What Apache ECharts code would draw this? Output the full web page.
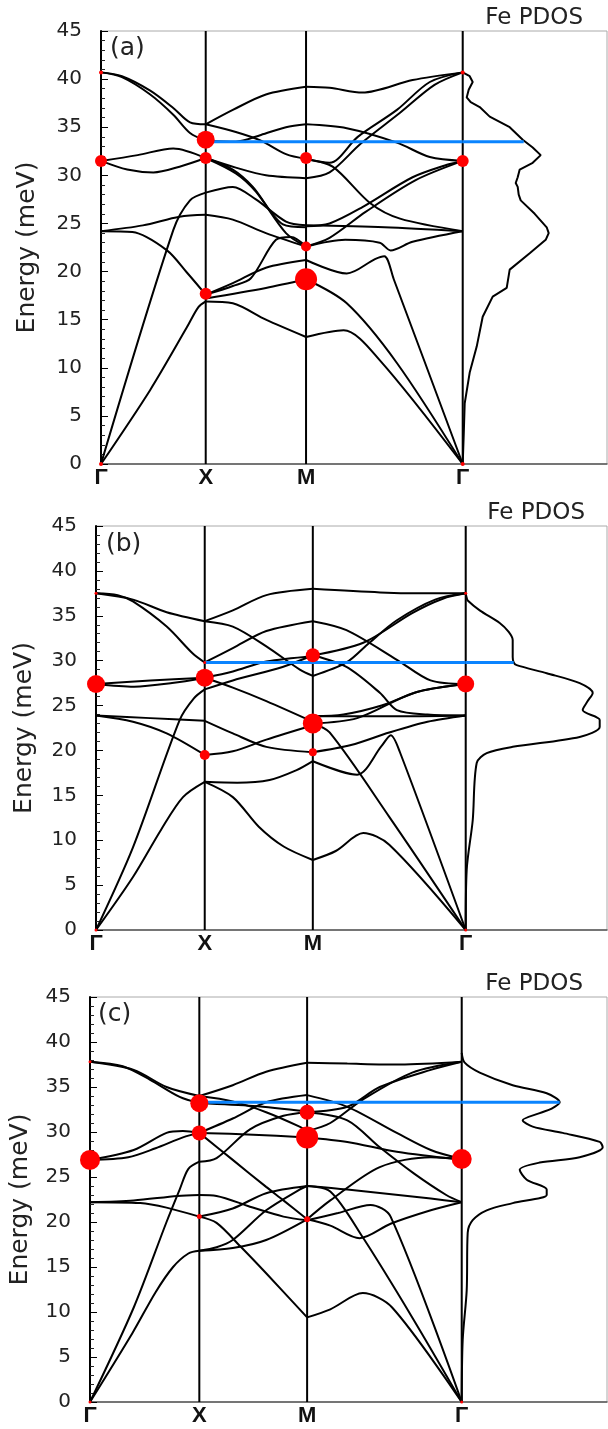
<!DOCTYPE html>
<html><head><meta charset="utf-8">
<script src="https://cdn.jsdelivr.net/npm/echarts@6/dist/echarts.min.js"></script>
<style>html,body{margin:0;padding:0;background:#fff}#c{width:608px;height:1429px}</style>
</head><body><div id="c"></div>
<script>
// ---------- data ----------
const kLabels = ['Γ', 'X', 'M', 'Γ'];
const panelTags = ['(a)', '(b)', '(c)'];
const energyMin = 0, energyMax = 45, energyStep = 5;

// high-symmetry k distances along the path (as drawn)
const kNodesA = [0, 0.5, 0.979, 1.727];
const kNodesB = [0, 0.5, 0.997, 1.700];
const kNodesC = [0, 0.5, 0.993, 1.700];

// branches per segment: [fraction along segment, energy meV]
const bandsA_GX = [
 [[0,0],[0.47,7.7],[0.82,14.2],[0.93,16.3],[1,16.9]],
 [[0,0],[0.69,24.3],[0.85,27.4],[1,28.2]],
 [[0,24.2],[0.4,24.8],[0.75,25.7],[1,25.9]],
 [[0,24.2],[0.3,24.1],[0.63,22.2],[0.82,19.9],[1,17.6]],
 [[0,31.5],[0.25,30.6],[0.5,30.3],[0.75,30.9],[1,31.8]],
 [[0,31.5],[0.35,32.1],[0.69,32.8],[1,31.8]],
 [[0,40.7],[0.2,40.3],[0.47,38.8],[0.69,37.0],[0.85,35.5],[1,35.3]],
 [[0,40.7],[0.2,40.2],[0.47,38.4],[0.69,36.3],[0.85,34.4],[1,33.6]]
];
const bandsA_XM = [
 [[0,35.3],[0.27,36.8],[0.6,38.4],[1,39.2]],
 [[0,35.3],[0.3,34.5],[0.55,33.6],[0.8,32.2],[1,31.7]],
 [[0,33.6],[0.3,33.5],[0.55,34.2],[0.8,35.0],[1,35.3]],
 [[0,31.8],[0.3,30.8],[0.6,30.0],[1,29.7]],
 [[0,31.8],[0.27,30.6],[0.47,28.8],[0.77,24.9],[1,24.6]],
 [[0,31.8],[0.3,30.2],[0.5,28.3],[0.8,24.0],[1,22.6]],
 [[0,28.2],[0.27,28.8],[0.5,27.5],[0.8,25.2],[1,24.8]],
 [[0,25.9],[0.27,25.4],[0.6,24.0],[1,22.6]],
 [[0,17.6],[0.27,18.5],[0.45,19.3],[0.7,23.3],[0.85,23.6],[1,22.6]],
 [[0,17.6],[0.27,18.8],[0.6,20.4],[1,21.2]],
 [[0,17.2],[0.6,18.3],[1,19.2]],
 [[0,16.9],[0.27,16.7],[0.6,15.0],[1,13.2]]
];
const bandsA_MG = [
 [[0,39.2],[0.15,39.1],[0.36,38.6],[0.68,39.9],[1,40.7]],
 [[0,35.3],[0.26,34.9],[0.58,33.4],[0.79,31.9],[1,31.5]],
 [[0,31.7],[0.15,31.3],[0.33,34.0],[0.58,36.8],[0.79,39.7],[1,40.7]],
 [[0,29.7],[0.15,30.3],[0.35,33.3],[0.6,36.5],[0.82,39.4],[1,40.7]],
 [[0,31.7],[0.17,30.9],[0.41,27.1],[0.6,25.5],[1,24.2]],
 [[0,24.7],[0.15,25.0],[0.36,26.7],[0.68,29.8],[0.9,31.1],[1,31.5]],
 [[0,22.6],[0.15,23.5],[0.38,26.2],[0.7,29.5],[1,31.5]],
 [[0,24.8],[0.5,24.6],[1,24.2]],
 [[0,22.6],[0.25,23.3],[0.47,23.0],[0.54,22.2],[0.68,23.1],[1,24.2]],
 [[0,21.2],[0.26,19.8],[0.44,21.3],[0.5,21.6],[0.56,19.2],[1,0]],
 [[0,19.2],[0.26,16.7],[0.58,10.5],[1,0]],
 [[0,13.2],[0.24,13.9],[0.47,10.8],[1,0]]
];

const bandsB_GX = [
 [[0,37.5],[0.34,36.8],[0.65,35.4],[1,34.4]],
 [[0,37.5],[0.2,37.3],[0.34,36.6],[0.65,33.8],[0.89,30.8],[1,29.8]],
 [[0,27.4],[0.5,27.8],[1,28.1]],
 [[0,27.4],[0.35,27.1],[0.7,27.5],[1,28.1]],
 [[0,0],[0.34,9.2],[0.77,23.4],[0.9,25.8],[1,26.8]],
 [[0,0],[0.34,5.9],[0.6,11.2],[0.8,14.8],[1,16.5]],
 [[0,23.9],[0.5,23.6],[1,23.3]],
 [[0,23.9],[0.34,23.2],[0.65,21.9],[1,19.5]]
];
const bandsB_XM = [
 [[0,34.4],[0.26,35.6],[0.57,37.3],[1,38.0]],
 [[0,34.4],[0.26,33.8],[0.57,31.6],[0.88,29.0],[1,28.3]],
 [[0,29.8],[0.26,31.4],[0.57,33.3],[1,34.4]],
 [[0,28.1],[0.26,28.8],[0.57,29.9],[1,30.5]],
 [[0,26.8],[0.26,27.8],[0.72,29.3],[1,30.6]],
 [[0,28.1],[0.26,27.0],[0.57,25.5],[1,23.2]],
 [[0,19.5],[0.26,19.9],[0.57,21.2],[1,22.8]],
 [[0,23.3],[0.26,21.9],[0.57,20.4],[1,19.8]],
 [[0,16.5],[0.3,16.4],[0.6,16.7],[0.85,17.8],[1,18.8]],
 [[0,16.5],[0.26,14.8],[0.5,11.5],[0.73,9.3],[1,7.8]]
];
const bandsB_MG = [
 [[0,38.0],[0.44,37.6],[0.7,37.5],[1,37.5]],
 [[0,34.4],[0.22,33.4],[0.55,30.1],[0.77,27.8],[1,27.4]],
 [[0,30.6],[0.33,32.0],[0.65,35.3],[0.85,36.9],[1,37.5]],
 [[0,28.3],[0.22,29.8],[0.37,32.0],[0.55,34.5],[0.8,36.8],[1,37.5]],
 [[0,30.6],[0.22,29.3],[0.44,26.4],[0.55,24.5],[0.75,24.0],[1,23.9]],
 [[0,23.0],[0.29,23.6],[0.66,26.4],[1,27.4]],
 [[0,23.8],[0.2,24.0],[0.45,25.0],[0.7,26.6],[1,27.4]],
 [[0,23.8],[0.5,23.8],[1,23.9]],
 [[0,18.8],[0.29,17.3],[0.45,20.5],[0.51,21.7],[0.57,19.8],[1,0]],
 [[0,19.8],[0.25,20.6],[0.5,22.0],[0.75,23.2],[1,23.9]],
 [[0,23.0],[0.11,22.0],[0.5,12.6],[1,0]],
 [[0,7.8],[0.15,8.8],[0.33,10.8],[0.5,9.5],[1,0]]
];

const bandsC_GX = [
 [[0,37.8],[0.4,36.9],[0.7,35.0],[1,34.0]],
 [[0,37.8],[0.3,37.3],[0.55,35.8],[0.82,33.9],[1,33.2]],
 [[0,26.9],[0.4,28.0],[0.7,29.9],[0.85,30.1],[1,29.9]],
 [[0,26.9],[0.35,27.2],[0.6,28.2],[0.85,29.4],[1,29.9]],
 [[0,22.2],[0.4,22.4],[0.8,22.9],[1,23.0]],
 [[0,22.2],[0.46,22.1],[0.7,21.6],[1,20.6]],
 [[0,0],[0.4,10.5],[0.7,20.0],[0.82,23.6],[0.9,25.9],[1,26.7]],
 [[0,0],[0.39,7.7],[0.6,12.2],[0.76,15.0],[0.9,16.5],[1,16.8]]
];
const bandsC_XM = [
 [[0,34.0],[0.31,35.2],[0.62,36.7],[1,37.7]],
 [[0,34.0],[0.31,33.4],[0.62,32.2],[0.93,30.6],[1,30.1]],
 [[0,33.2],[0.5,32.9],[1,32.3]],
 [[0,29.9],[0.5,29.7],[1,29.4]],
 [[0,29.9],[0.31,31.5],[0.62,33.3],[1,34.1]],
 [[0,29.9],[0.31,26.9],[0.62,23.9],[0.78,22.4],[1,20.3]],
 [[0,26.7],[0.16,27.1],[0.47,30.3],[0.78,31.8],[1,32.2]],
 [[0,23.0],[0.16,22.9],[0.47,21.7],[0.78,20.6],[1,20.2]],
 [[0,20.6],[0.31,21.5],[0.62,23.2],[1,24.0]],
 [[0,20.6],[0.16,19.9],[0.38,17.3],[0.62,14.3],[1,9.4]],
 [[0,16.8],[0.31,17.1],[0.62,18.0],[1,20.3]],
 [[0,16.8],[0.16,17.2],[0.31,18.0],[0.62,21.3],[0.93,23.6],[1,24.0]]
];
const bandsC_MG = [
 [[0,37.7],[0.26,37.6],[0.6,37.5],[1,37.8]],
 [[0,34.1],[0.26,32.8],[0.58,29.9],[0.8,28.0],[1,27.0]],
 [[0,30.1],[0.15,31.0],[0.36,33.6],[0.68,36.6],[1,37.8]],
 [[0,32.2],[0.26,32.8],[0.47,35.0],[0.8,36.9],[1,37.8]],
 [[0,29.4],[0.26,28.9],[0.58,27.8],[1,26.9]],
 [[0,32.2],[0.26,31.3],[0.47,28.3],[0.69,25.4],[0.9,23.0],[1,22.2]],
 [[0,24.0],[0.26,23.6],[0.8,22.6],[1,22.2]],
 [[0,20.3],[0.15,22.4],[0.47,26.1],[0.8,27.2],[1,27.0]],
 [[0,20.3],[0.15,19.6],[0.34,18.2],[0.54,19.8],[0.8,21.3],[1,22.2]],
 [[0,20.2],[0.2,21.0],[0.41,21.9],[0.54,20.6],[1,0]],
 [[0,24.0],[0.15,23.4],[0.36,18.3],[0.68,9.4],[1,0]],
 [[0,9.4],[0.15,10.3],[0.36,12.1],[0.55,10.5],[1,0]]
];

// Fe partial DOS: [energy meV, DOS arb. units]
const pdosA = [[40.7,0],[40.3,0.07],[39.7,0.10],[38.9,0.06],[38.1,0.04],[37.6,0.08],[37.1,0.17],[36.1,0.27],[35.0,0.47],[33.7,0.60],[32.9,0.70],[32.1,0.78],[31.3,0.70],[30.6,0.57],[29.8,0.55],[29.2,0.53],[28.8,0.55],[28.0,0.56],[27.4,0.58],[26.0,0.72],[24.6,0.84],[24.0,0.86],[23.3,0.83],[21.9,0.67],[20.2,0.47],[18.3,0.44],[17.4,0.30],[15.3,0.20],[12.2,0.14],[9.5,0.07],[6.3,0.02],[3,0.01],[0,0]];
const pdosB = [[37.5,0],[37.0,0.01],[36.7,0.02],[35.6,0.14],[34.2,0.34],[33.2,0.43],[32.3,0.47],[30.4,0.47],[29.8,0.48],[29.5,0.51],[28.6,0.81],[27.5,1.14],[26.4,1.27],[25.5,1.22],[24.5,1.17],[23.4,1.34],[22.6,1.34],[21.5,1.14],[20.4,0.47],[19.7,0.21],[18.6,0.11],[12.2,0.07],[6.7,0.01],[0,0]];
const pdosC = [[38.8,0],[37.7,0.03],[36.6,0.18],[35.2,0.51],[34.3,0.85],[33.3,0.98],[32.6,0.90],[32.1,0.78],[31.3,0.61],[30.6,0.71],[29.9,1.01],[28.9,1.38],[28.3,1.41],[27.2,1.18],[26.6,0.78],[25.8,0.58],[24.7,0.65],[23.6,0.85],[23.0,0.85],[22.1,0.51],[21.3,0.25],[20.2,0.11],[18.8,0.06],[12.4,0.05],[6.9,0.01],[0,0]];

// highlighted modes: [k-node index, energy, Fe weight]
const dotsA = [[0,0,2],[0,31.5,6],[0,40.7,2],[1,33.7,9],[1,31.8,6],[1,17.7,6],[2,31.8,6],[2,22.6,5],[2,19.2,11],[3,31.5,6],[3,40.7,2],[3,0,2]];
const dotsB = [[0,0,1.5],[0,27.4,9],[0,37.5,1.5],[1,29.8,1.5],[1,28.1,9],[1,19.5,5],[2,30.6,7],[2,23.0,10],[2,19.8,4],[3,27.4,8.5],[3,37.5,1.5],[3,0,1.5]];
const dotsC = [[0,0,1.5],[0,26.9,10],[0,37.8,1.5],[1,33.2,9],[1,29.9,7.5],[1,20.6,2.5],[2,32.2,7.5],[2,29.4,11],[2,20.3,3],[3,27.0,10],[3,0,1.5]];

// blue marker: [energy, DOS value at its end]
const blueA = [33.5, 0.61];
const blueB = [29.8, 0.48];
const blueC = [33.3, 0.98];

// ---------- build ----------
const panelsData = [
 {k:kNodesA, segs:[bandsA_GX,bandsA_XM,bandsA_MG], pdos:pdosA, dots:dotsA, blue:blueA, smoothDos:false},
 {k:kNodesB, segs:[bandsB_GX,bandsB_XM,bandsB_MG], pdos:pdosB, dots:dotsB, blue:blueB, smoothDos:0.3},
 {k:kNodesC, segs:[bandsC_GX,bandsC_XM,bandsC_MG], pdos:pdosC, dots:dotsC, blue:blueC, smoothDos:0.3}
];
const layout = [
 {left:101, top:31, gx:462.7, bottom:464, gap:61, tag:[110,51], fe:[583,18.5]},
 {left:96, top:526, gx:465.7, bottom:930, gap:59, tag:[106,546.5], fe:[585,513.5]},
 {left:90, top:997, gx:461.7, bottom:1402, gap:57, tag:[98,1016.5], fe:[583,984]}
];
const RIGHT = 607;
const DOS_PX = 100; // px per DOS unit

const grid = [], xAxis = [], yAxis = [], series = [], graphic = [];
const font = 'DejaVu Sans';

panelsData.forEach((p, i) => {
  const L = layout[i];
  const h = L.bottom - L.top;
  grid.push({left:L.left, top:L.top, width:L.gx - L.left, height:h, show:true, borderColor:'#aaa', borderWidth:1, containLabel:false});
  grid.push({left:L.gx, top:L.top, width:RIGHT - L.gx, height:h, show:true, borderColor:'#aaa', borderWidth:1, containLabel:false});
  const g0 = 2*i, g1 = 2*i+1;
  xAxis.push({gridIndex:g0, type:'value', min:0, max:p.k[3],
    axisLine:{show:true, lineStyle:{color:'#555', width:1.5}},
    axisTick:{show:false}, splitLine:{show:false},
    axisLabel:{customValues:p.k, showMinLabel:true, showMaxLabel:true, margin:3,
      fontSize:22, fontWeight:'bold', fontFamily:'Liberation Sans', color:'#111',
      formatter:(v) => { const j = p.k.findIndex(kk => Math.abs(kk - v) < 1e-6); return j >= 0 ? kLabels[j] : ''; }}
  });
  xAxis.push({gridIndex:g1, type:'value', min:0, max:(RIGHT - L.gx)/DOS_PX,
    axisLine:{show:true, lineStyle:{color:'#555', width:1.5}},
    axisTick:{show:false}, axisLabel:{show:false}, splitLine:{show:false}});
  yAxis.push({gridIndex:g0, type:'value', min:energyMin, max:energyMax, interval:energyStep,
    name:'Energy (meV)', nameLocation:'middle', nameGap:L.gap,
    nameTextStyle:{fontSize:25, fontFamily:font, color:'#222'},
    axisLine:{show:true, lineStyle:{color:'#000', width:2}},
    axisTick:{show:true, inside:true, length:7, lineStyle:{color:'#000', width:1}},
    minorTick:{show:true, splitNumber:5, length:4, lineStyle:{color:'#222', width:1}},
    splitLine:{show:false},
    axisLabel:{fontSize:20, fontFamily:font, color:'#222', margin:19}
  });
  yAxis.push({gridIndex:g1, type:'value', min:energyMin, max:energyMax, show:false, splitLine:{show:false}});

  // dispersion branches
  p.segs.forEach((seg, s) => {
    const k0 = p.k[s], k1 = p.k[s+1];
    seg.forEach(b => {
      series.push({type:'line', xAxisIndex:g0, yAxisIndex:g0, showSymbol:false, symbol:'none',
        smooth:0.3, clip:false, silent:true, z:3,
        lineStyle:{color:'#000', width:2},
        data:b.map(([t,e]) => [k0 + t*(k1-k0), e])});
    });
  });
  // vertical lines at high-symmetry points
  p.k.slice(1).forEach(kk => {
    series.push({type:'line', xAxisIndex:g0, yAxisIndex:g0, symbol:'none', clip:false, silent:true, z:4,
      lineStyle:{color:'#000', width:2}, data:[[kk,energyMin],[kk,energyMax]]});
  });
  // blue marker line
  series.push({type:'line', xAxisIndex:g0, yAxisIndex:g0, symbol:'none', clip:false, silent:true, z:5,
    lineStyle:{color:'#0a84ff', width:3}, data:[[p.k[1],p.blue[0]],[p.k[3],p.blue[0]]]});
  series.push({type:'line', xAxisIndex:g1, yAxisIndex:g1, symbol:'none', clip:false, silent:true, z:5,
    lineStyle:{color:'#0a84ff', width:3}, data:[[0,p.blue[0]],[p.blue[1],p.blue[0]]]});
  // PDOS
  series.push({type:'line', xAxisIndex:g1, yAxisIndex:g1, symbol:'none', clip:false, silent:true, z:3,
    smooth:p.smoothDos, lineStyle:{color:'#000', width:2},
    data:p.pdos.map(([e,v]) => [v,e])});
  // red dots
  series.push({type:'scatter', xAxisIndex:g0, yAxisIndex:g0, clip:false, silent:true, z:10,
    symbolSize:(d) => 2*d[2], itemStyle:{color:'#ff0000', opacity:1},
    data:p.dots.map(([j,e,w]) => [p.k[j], e, w])});

  graphic.push({type:'text', left:L.tag[0], top:L.tag[1] - 15, style:{text:panelTags[i], fontSize:25, fontFamily:font, fill:'#222'}});
  graphic.push({type:'text', x:L.fe[0], y:L.fe[1], style:{text:'Fe PDOS', fontSize:23, fontFamily:font, fill:'#222', align:'right', verticalAlign:'middle'}});
});

const chart = echarts.init(document.getElementById('c'), null, {renderer:'canvas'});
chart.setOption({backgroundColor:'#fff', animation:false, grid, xAxis, yAxis, series, graphic});
</script></body></html>
